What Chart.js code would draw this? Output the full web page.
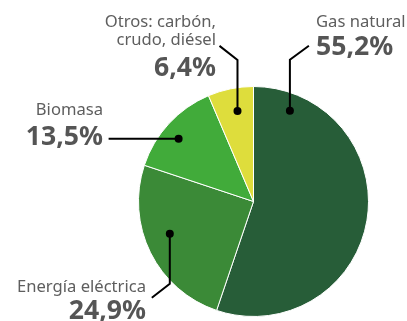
<!DOCTYPE html>
<html lang="es">
<head>
<meta charset="utf-8">
<title>Consumo de energía por fuente</title>
<script src="https://cdn.jsdelivr.net/npm/chart.js@4/dist/chart.umd.min.js"></script>
<style>
    html, body { margin: 0; padding: 0; background: #fff; }
    canvas { display: block; }
</style>
</head>
<body>
<canvas id="energiaChart" width="407" height="321"></canvas>
<script>
const categorias = [
    ['Gas natural'],
    ['Energía eléctrica'],
    ['Biomasa'],
    ['Otros: carbón,', 'crudo, diésel']
];
const porcentajes = [55.2, 24.9, 13.5, 6.4];
const colores = ['#275d38', '#3b8a37', '#41ab3a', '#dedd3c'];

// punto del conector: fraccion del arco (t) y del radio (r)
const anclas = [
    { t: 0.11, r: 0.85 },
    { t: 0.56, r: 0.78 },
    { t: 0.445, r: 0.85 },
    { t: 0.565, r: 0.80 }
];

// quiebres de la linea, relativos al punto
const quiebres = [
    [[0, -51], [19, -65]],
    [[0, 50], [-18, 64]],
    [[-70, 0]],
    [[0, -51], [-18, -65]]
];

// texto: x, alineacion, lineas base del nombre y base del porcentaje
const etiquetas = [
    { x: 316, align: 'left', lineas: [27], pct: 55 },
    { x: 146, align: 'right', lineas: [292], pct: 319 },
    { x: 103, align: 'right', lineas: [115], pct: 145 },
    { x: 216, align: 'right', lineas: [27, 45], pct: 76 }
];

const fuente = '"Noto Sans", "Open Sans", sans-serif';

function formatoPct(v) {
    return v.toFixed(1).replace('.', ',') + '%';
}

const conectores = {
    id: 'conectores',
    afterDatasetsDraw(chart) {
        const ctx = chart.ctx;
        const arcos = chart.getDatasetMeta(0).data;

        ctx.save();
        arcos.forEach((arco, i) => {
            const p = arco.getProps(['x', 'y', 'startAngle', 'endAngle', 'outerRadius'], true);
            const a = p.startAngle + anclas[i].t * (p.endAngle - p.startAngle);
            const px = p.x + Math.cos(a) * p.outerRadius * anclas[i].r;
            const py = p.y + Math.sin(a) * p.outerRadius * anclas[i].r;

            ctx.strokeStyle = '#000';
            ctx.lineWidth = 2;
            ctx.lineJoin = 'miter';
            ctx.beginPath();
            ctx.moveTo(px, py);
            quiebres[i].forEach(q => ctx.lineTo(px + q[0], py + q[1]));
            ctx.stroke();

            ctx.fillStyle = '#000';
            ctx.beginPath();
            ctx.arc(px, py, 4, 0, Math.PI * 2);
            ctx.fill();

            const e = etiquetas[i];
            ctx.textAlign = e.align;
            ctx.textBaseline = 'alphabetic';
            ctx.fillStyle = '#5e5e5e';
            ctx.font = '16.6px ' + fuente;
            categorias[i].forEach((linea, j) => ctx.fillText(linea, e.x, e.lineas[j]));

            ctx.fillStyle = '#555555';
            ctx.font = 'bold 26.6px ' + fuente;
            ctx.fillText(formatoPct(porcentajes[i]), e.x, e.pct);
        });
        ctx.restore();
    }
};

const energiaChart = new Chart(document.getElementById('energiaChart'), {
    type: 'pie',
    data: {
        labels: categorias.map(c => c.join(' ')),
        datasets: [{
            data: porcentajes,
            backgroundColor: colores,
            borderColor: '#ffffff',
            borderWidth: 1
        }]
    },
    options: {
        responsive: false,
        animation: false,
        layout: {
            padding: { top: 86, bottom: 4, left: 138, right: 38 }
        },
        plugins: {
            legend: { display: false },
            tooltip: { enabled: false }
        }
    },
    plugins: [conectores]
});
</script>
</body>
</html>
